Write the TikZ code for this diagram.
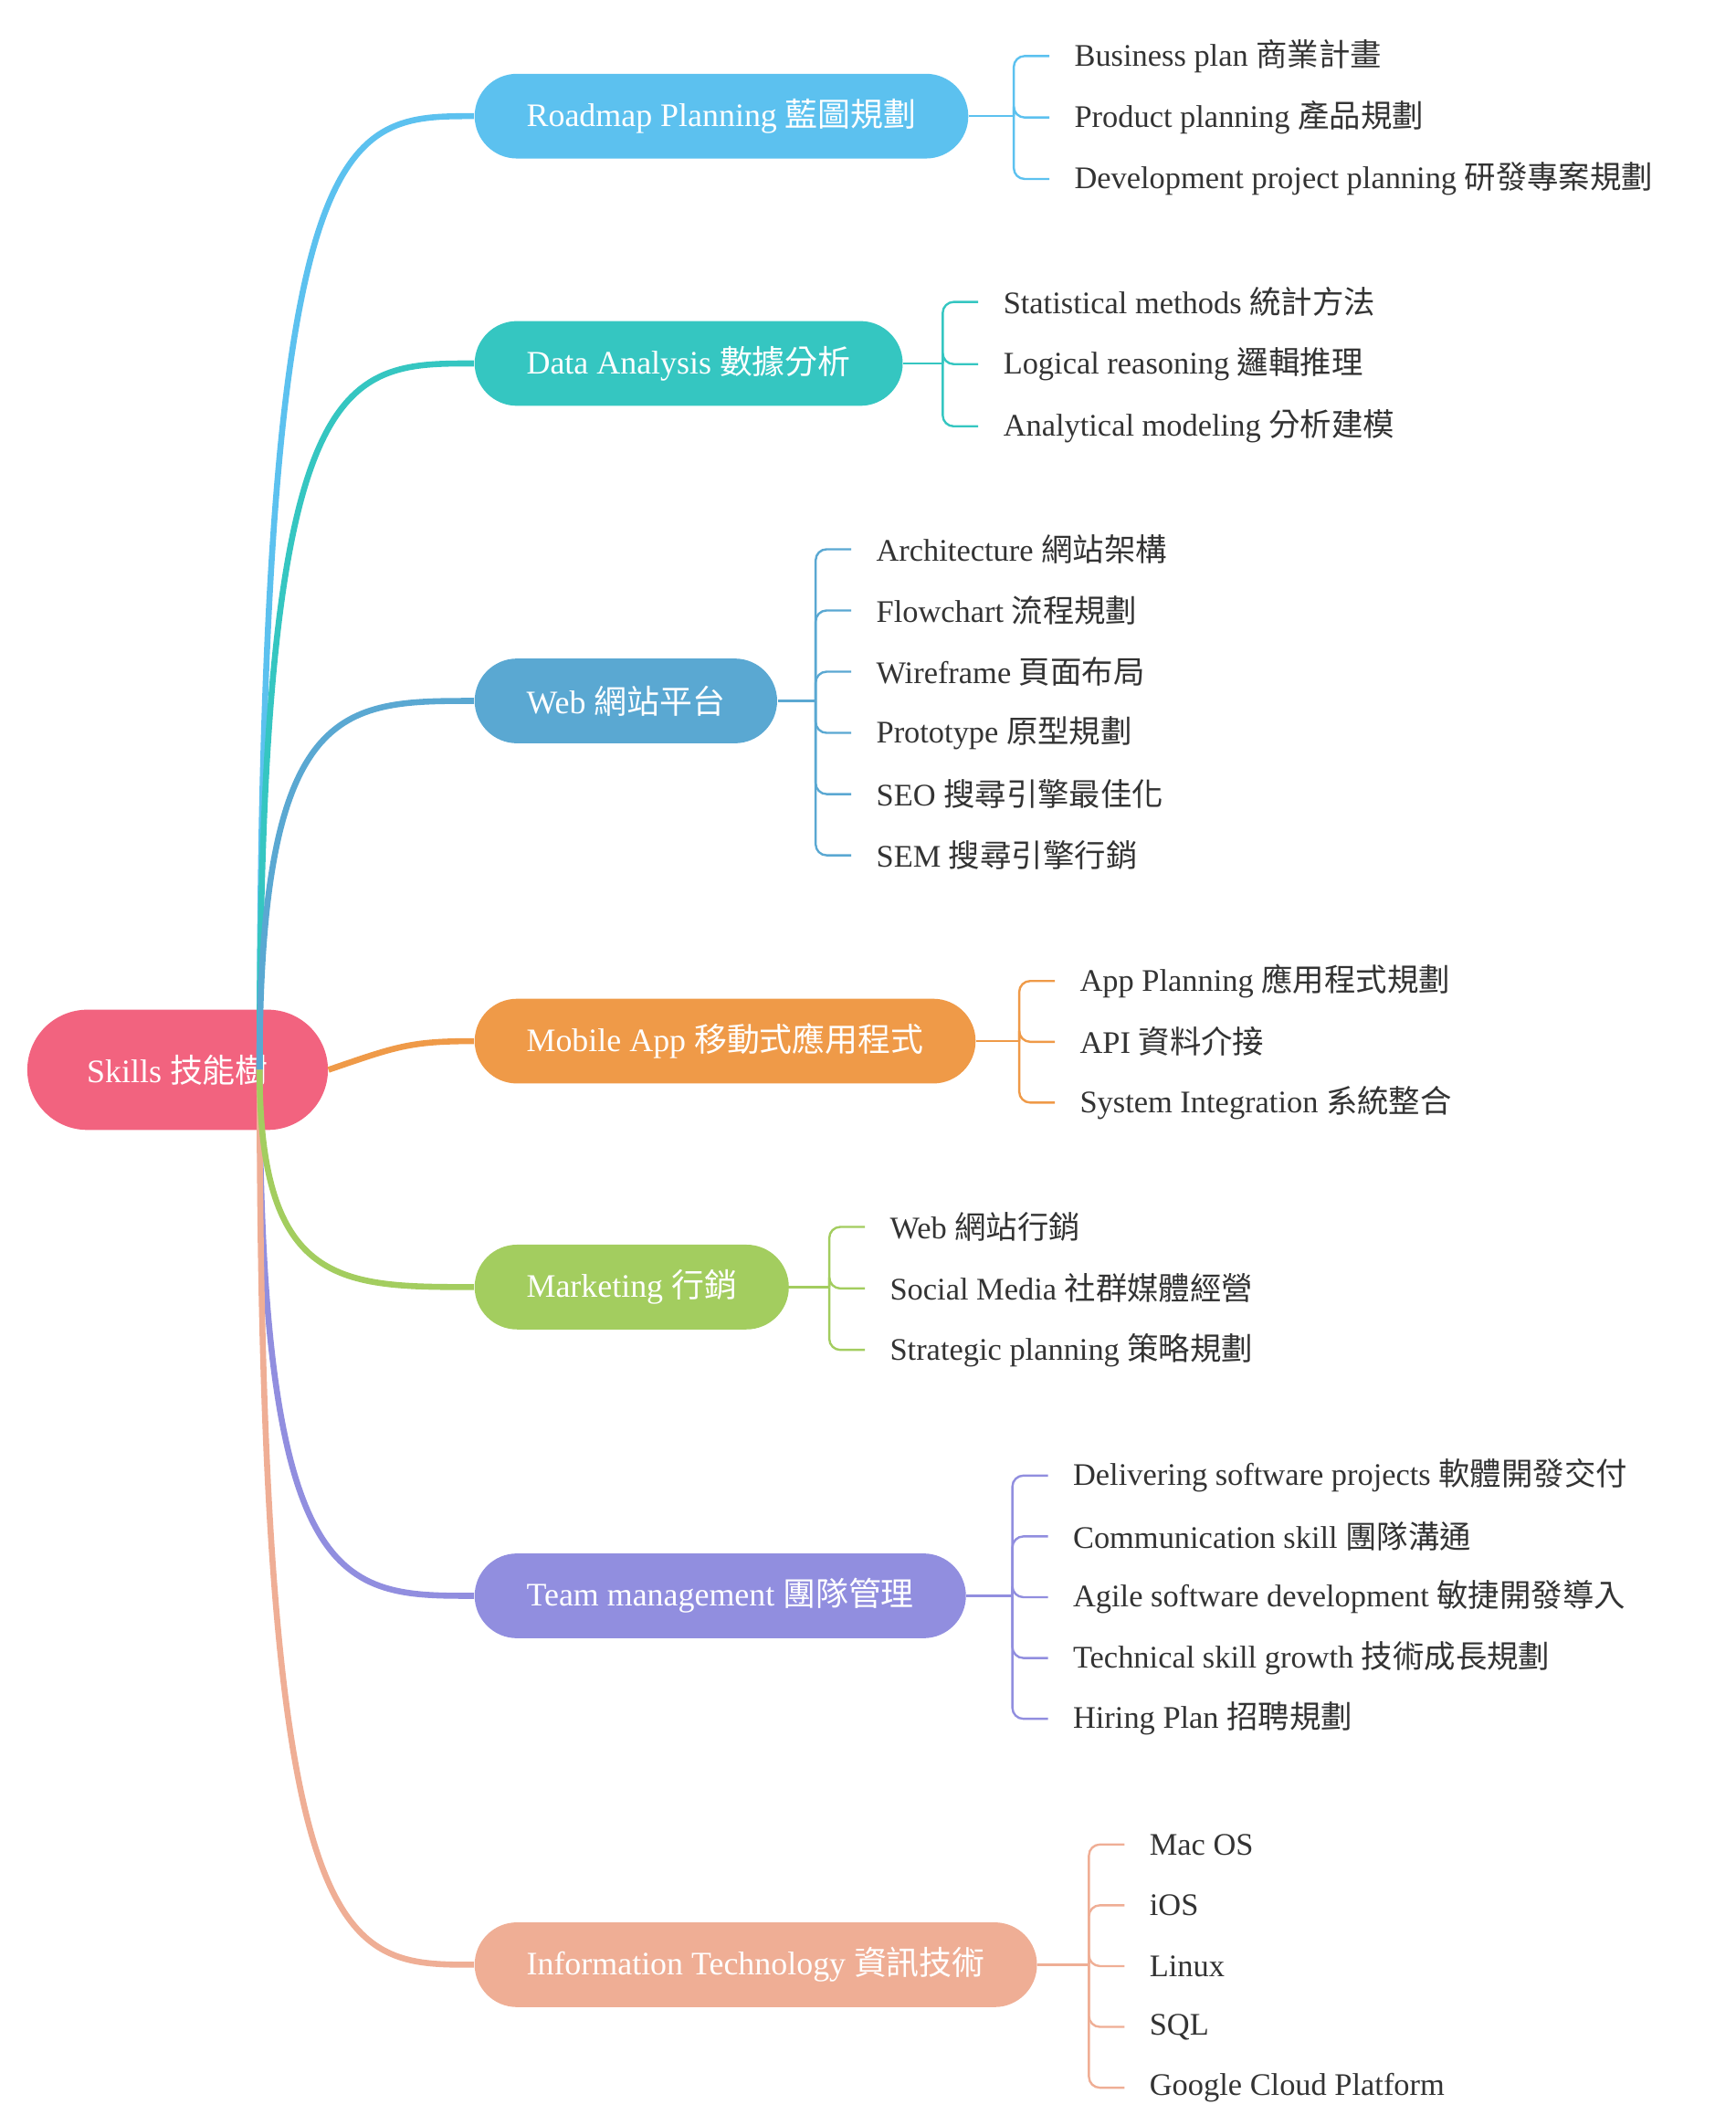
\documentclass[tikz,border=0pt]{standalone}
\usepackage{fontspec}
\setmainfont{Liberation Serif}
\newfontfamily\zhfont{Noto Sans CJK TC}
\newcommand{\zh}[1]{{\zhfont #1}}
\definecolor{cRoot}{HTML}{F2637F}
\definecolor{cRoad}{HTML}{5CC1EF}
\definecolor{cData}{HTML}{35C6C1}
\definecolor{cWeb}{HTML}{5AA8D2}
\definecolor{cApp}{HTML}{EF9A48}
\definecolor{cMkt}{HTML}{A3CD5F}
\definecolor{cTeam}{HTML}{918EDF}
\definecolor{cIT}{HTML}{EFAE95}
\definecolor{cText}{HTML}{333333}
\begin{document}
\begin{tikzpicture}[x=0.5pt,y=-0.5pt,
    rootnode/.style ={rounded corners=22pt, fill=cRoot, text=white, minimum width=110pt, minimum height=44pt, font=\fontsize{12}{14}\selectfont},
    branch/.style ={rounded corners=15.5pt, text=white, minimum height=31pt, inner xsep=19pt, anchor=west, font=\fontsize{12}{14}\selectfont},
    leaf/.style ={anchor=west, inner sep=0pt, text=cText, font=\fontsize{11.5}{14}\selectfont},
    stem/.style ={line width=2.2pt},
    tick/.style ={line width=0.8pt, rounded corners=4pt}]
   \useasboundingbox (0,0) rectangle (1270,1548);

   \node[rootnode] (root) at (130,783) {Skills \zh{技能樹}};

   \node[branch,fill=cRoad] (road) at (347,85) {Roadmap Planning \zh{藍圖規劃}};
   \node[branch,fill=cData] (data) at (347,266) {Data Analysis \zh{數據分析}};
   \node[branch,fill=cWeb] (web) at (347,513) {Web \zh{網站平台}};
   \node[branch,fill=cApp] (app) at (347,762) {Mobile App \zh{移動式應用程式}};
   \node[branch,fill=cMkt] (mkt) at (347,942) {Marketing \zh{行銷}};
   \node[branch,fill=cTeam] (team) at (347,1168) {Team management \zh{團隊管理}};
   \node[branch,fill=cIT] (it) at (347,1438) {Information Technology \zh{資訊技術}};

   % stems from the root
   \foreach \b/\c in {road/cRoad, data/cData, web/cWeb, team/cTeam, it/cIT}
     \draw[stem,\c] (190,783) .. controls (190,783 |- \b.west) and (250,783 |- \b.west) .. (\b.west);
   \draw[stem,cMkt] (190,783) .. controls (190,942) and (250,942) .. (mkt.west);
   \draw[stem,cApp] (root.east) .. controls (290,766) and (300,762) .. (app.west);

   % leaves
   \foreach \t [count=\i] in {Business plan \zh{商業計畫}, Product planning \zh{產品規劃}, Development project planning \zh{研發專案規劃}}
     \node[leaf] (road\i) at (786,41+45*\i-45) {\t};
   \foreach \t [count=\i] in {Statistical methods \zh{統計方法}, Logical reasoning \zh{邏輯推理}, Analytical modeling \zh{分析建模}}
     \node[leaf] (data\i) at (734,221+45.5*\i-45.5) {\t};
   \foreach \t [count=\i] in {Architecture \zh{網站架構}, Flowchart \zh{流程規劃}, Wireframe \zh{頁面布局}, Prototype \zh{原型規劃}, SEO \zh{搜尋引擎最佳化}, SEM \zh{搜尋引擎行銷}}
     \node[leaf] (web\i) at (641,402+44.8*\i-44.8) {\t};
   \foreach \t [count=\i] in {App Planning \zh{應用程式規劃}, API \zh{資料介接}, System Integration \zh{系統整合}}
     \node[leaf] (app\i) at (790,718+44.5*\i-44.5) {\t};
   \foreach \t [count=\i] in {Web \zh{網站行銷}, Social Media \zh{社群媒體經營}, Strategic planning \zh{策略規劃}}
     \node[leaf] (mkt\i) at (651,898+45*\i-45) {\t};
   \foreach \t [count=\i] in {Delivering software projects \zh{軟體開發交付}, Communication skill \zh{團隊溝通}, Agile software development \zh{敏捷開發導入}, Technical skill growth \zh{技術成長規劃}, Hiring Plan \zh{招聘規劃}}
     \node[leaf] (team\i) at (785,1080+44.5*\i-44.5) {\t};
   \foreach \t [count=\i] in {Mac OS, iOS, Linux, SQL, Google Cloud Platform}
     \node[leaf] (it\i) at (841,1350+44.5*\i-44.5) {\t};

   % brackets
   \foreach \b/\c/\x/\n in {road/cRoad/742/3, data/cData/690/3, web/cWeb/597/6, app/cApp/746/3, mkt/cMkt/607/3, team/cTeam/741/5, it/cIT/797/5} {
     \draw[tick,\c] (\b.east) -- (\x,0 |- \b.east) coordinate (\b j);
     \foreach \i in {1,...,\n}
       \draw[tick,\c] (\b j) |- ([xshift=-9pt]\b\i.west);
   }
 \end{tikzpicture}
\end{document}
